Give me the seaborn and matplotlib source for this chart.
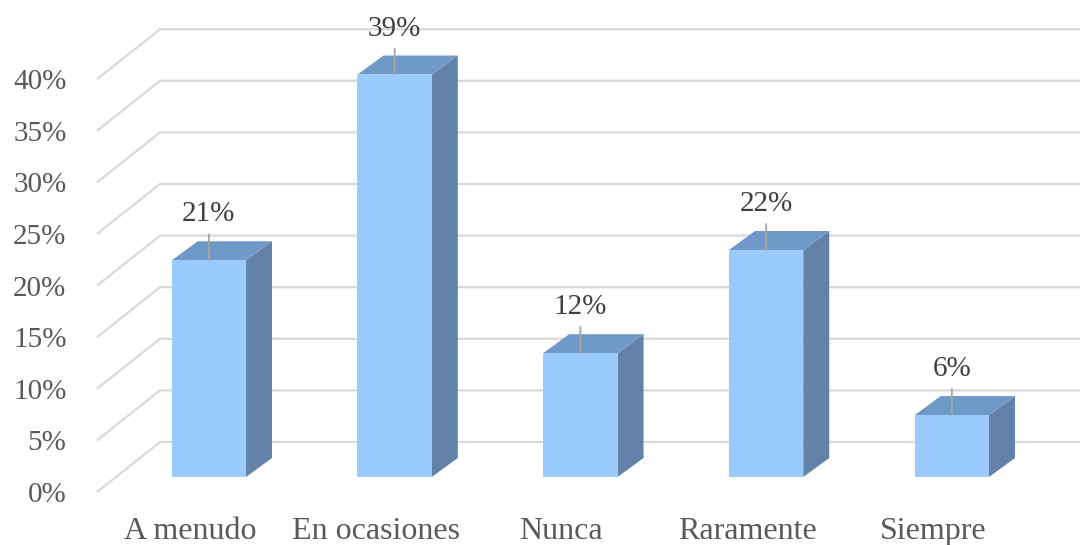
import matplotlib
matplotlib.use("Agg")
import matplotlib.pyplot as plt
import matplotlib.transforms as mtrans
from matplotlib.patches import Polygon
import seaborn as sns
import pandas as pd

# Survey answers and their share of respondents (%)
categories = ["A menudo", "En ocasiones", "Nunca", "Raramente", "Siempre"]
percentages = [21, 39, 12, 22, 6]
ytick_values = [0, 5, 10, 15, 20, 25, 30, 35, 40]
ytick_labels = [f"{v}%" for v in ytick_values]
value_labels = [f"{v}%" for v in percentages]

FRONT = "#9BCBFD"
TOP = "#6F99C6"
SIDE = "#6282A8"
GRID = "#D9D9D9"
TEXT = "#595959"

sns.set_theme(style="white")
plt.rcParams["font.family"] = ["Liberation Serif", "DejaVu Serif"]

W, H, DPI = 1080, 545, 100
fig = plt.figure(figsize=(W / DPI, H / DPI), dpi=DPI)

# plot area in pixels: front floor edge at y=492, 10.32 px per percent point
left_px, base_px = 97, 492
ymax = 45
px_per_pct = 10.32
px_per_cat = 185.75
ax_w_px = W - left_px
ax_h_px = ymax * px_per_pct
ax = fig.add_axes([left_px / W, (H - base_px) / H, ax_w_px / W, ax_h_px / H])

df = pd.DataFrame({"categoria": categories, "porcentaje": percentages})
sns.barplot(data=df, x="categoria", y="porcentaje", ax=ax, width=0.4,
            color=FRONT, saturation=1, edgecolor="none", linewidth=0, zorder=3)

xlim = (-0.5, -0.5 + ax_w_px / px_per_cat)
ax.set_xlim(*xlim)
ax.set_ylim(0, ymax)


def shift(dx_px, dy_px):
    return ax.transData + mtrans.ScaledTranslation(dx_px / DPI, dy_px / DPI, fig.dpi_scale_trans)


# oblique projection: floor depth (63, 50) px, bars sit between depth 0.3 and 0.7
floor_dx, floor_dy = 63, 50
bar_front = shift(19, 15)
bar_dx = 26 / px_per_cat
bar_dy = 19 / px_per_pct

# walls: left wall diagonals then horizontal back-wall gridlines
for v in ytick_values:
    x_back = xlim[0] + floor_dx / px_per_cat
    y_back = v + floor_dy / px_per_pct
    ax.plot([xlim[0], x_back, xlim[1] + 1], [v, y_back, y_back],
            color=GRID, lw=1.6, zorder=1, clip_on=False, solid_capstyle="butt")

for patch, lab in zip(ax.patches, value_labels):
    patch.set_transform(bar_front)
    x0 = patch.get_x()
    x1 = x0 + patch.get_width()
    top = patch.get_height()
    side = Polygon([(x1, 0), (x1 + bar_dx, bar_dy), (x1 + bar_dx, top + bar_dy), (x1, top)],
                   closed=True, facecolor=SIDE, edgecolor="none", transform=bar_front, zorder=2)
    cap = Polygon([(x0, top), (x0 + bar_dx, top + bar_dy), (x1 + bar_dx, top + bar_dy), (x1, top)],
                  closed=True, facecolor=TOP, edgecolor="none", transform=bar_front, zorder=2)
    ax.add_patch(side)
    ax.add_patch(cap)
    cx = x0 + patch.get_width() / 2
    ax.annotate("", xy=(cx, top), xycoords=bar_front,
                xytext=(0, 26), textcoords="offset pixels",
                arrowprops=dict(arrowstyle="-", color="#A6A6A6", lw=1.3, shrinkA=0, shrinkB=0),
                zorder=4)
    ax.annotate(lab, xy=(cx, top), xycoords=bar_front,
                xytext=(0, 46), textcoords="offset pixels",
                ha="center", va="center", fontsize=21, color="#404040", zorder=5,
                annotation_clip=False)

ax.set_yticks(ytick_values, ytick_labels)
ax.set_xticks(range(len(categories)), categories)
ax.tick_params(axis="y", length=0, pad=22, labelsize=21, labelcolor=TEXT)
ax.tick_params(axis="x", length=0, pad=18, labelsize=23, labelcolor=TEXT)
ax.set_xlabel("")
ax.set_ylabel("")
for s in ax.spines.values():
    s.set_visible(False)
ax.grid(False)
ax.patch.set_alpha(0)

fig.savefig("out.png", dpi=DPI)
